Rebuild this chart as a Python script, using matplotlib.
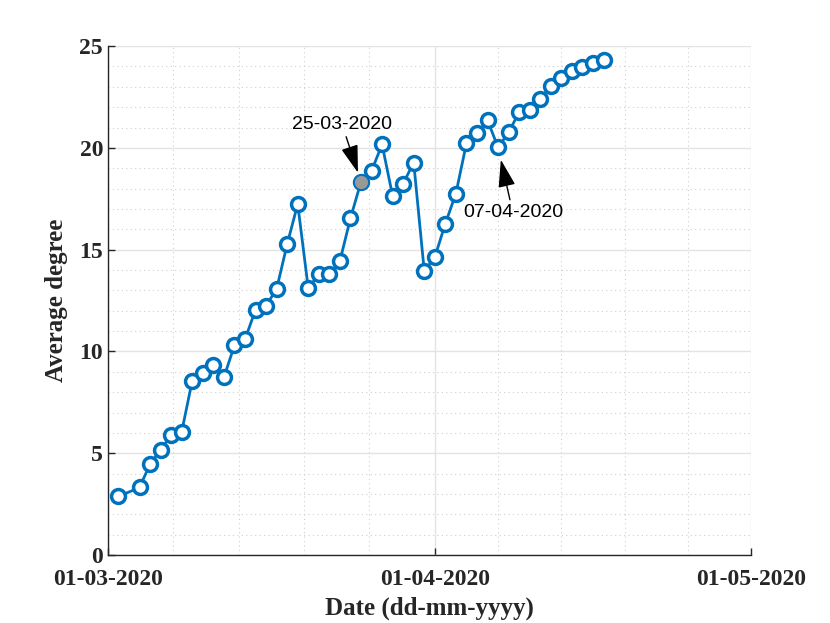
import numpy as np
import matplotlib
matplotlib.use('Agg')
import matplotlib.pyplot as plt
import matplotlib.dates as mdates
from datetime import date, timedelta

# Daily average degree (no value for 03-03-2020)
dates = [date(2020, 3, 2)] + [date(2020, 3, 4) + timedelta(days=i) for i in range(45)]
avg_degree = [
    2.88, 3.32, 4.47, 5.17, 5.89, 6.06, 8.57, 8.96, 9.34, 8.73,
    10.30, 10.60, 12.04, 12.25, 13.07, 15.27, 17.24, 13.10, 13.80, 13.80,
    14.44, 16.54, 18.33, 18.87, 20.17, 17.64, 18.25, 19.28, 13.95, 14.63,
    16.28, 17.76, 20.22, 20.71, 21.36, 20.02, 20.76, 21.76, 21.88, 22.42,
    23.04, 23.41, 23.78, 23.97, 24.17, 24.34,
]
highlight = date(2020, 3, 25)
note_dip = date(2020, 4, 7)
month_starts = [date(2020, 3, 1), date(2020, 4, 1), date(2020, 5, 1)]

blue = '#0072BD'
serif = 'Liberation Serif'

fig = plt.figure(figsize=(8.3, 6.23), dpi=100)
ax = fig.add_axes([0.130, 0.109, 0.775, 0.817])

x = mdates.date2num(dates)
ax.plot(x, avg_degree, '-o', color=blue, lw=2, ms=10, mew=2.5,
        mfc='white', mec=blue, zorder=3)

hi = dates.index(highlight)
ax.plot(x[hi], avg_degree[hi], 'o', ms=10.5, mew=1, mfc='#999999',
        mec=blue, zorder=4)

# annotations
arrow = dict(arrowstyle='-|>,head_length=0.9,head_width=0.28',
             color='black', lw=1, shrinkA=1, mutation_scale=19)
ax.annotate('25-03-2020', xy=(x[hi], avg_degree[hi]),
            xytext=(mdates.date2num(date(2020, 3, 23)) + 0.2, 20.75),
            ha='center', va='bottom', fontsize=14, family='Liberation Sans',
            arrowprops=dict(arrow, shrinkB=7))
dp = dates.index(note_dip)
ax.annotate('07-04-2020', xy=(x[dp], avg_degree[dp]),
            xytext=(mdates.date2num(date(2020, 4, 8)) + 0.4, 17.25),
            ha='center', va='top', fontsize=14, family='Liberation Sans',
            arrowprops=dict(arrow, shrinkB=9))

# axes
ms_num = mdates.date2num(month_starts)
ax.set_xlim(ms_num[0], ms_num[-1])
ax.set_ylim(0, 25)
ax.set_xticks(ms_num)
ax.set_xticklabels([d.strftime('%d-%m-%Y') for d in month_starts])
minor_x = []
for a, b in zip(ms_num[:-1], ms_num[1:]):
    minor_x += list(np.linspace(a, b, 6)[1:-1])
ax.set_xticks(minor_x, minor=True)
ax.set_yticks(np.arange(0, 26, 5))
ax.set_yticks(np.arange(0, 26, 1), minor=True)

ax.grid(which='major', color='#e3e3e3', lw=1, ls='-')
ax.grid(which='minor', color='#cfcfcf', lw=0.8, ls=(0, (1, 3)))
ax.set_axisbelow(True)

for s in ['top', 'right']:
    ax.spines[s].set_visible(False)
for s in ['left', 'bottom']:
    ax.spines[s].set_color('#262626')
    ax.spines[s].set_linewidth(1)

ax.tick_params(which='major', direction='in', length=5, width=1, color='#262626')
ax.tick_params(which='minor', length=0)
for lab in ax.get_xticklabels() + ax.get_yticklabels():
    lab.set_fontfamily(serif)
    lab.set_fontweight('bold')
    lab.set_fontsize(17)
    lab.set_color('#262626')
ax.tick_params(axis='x', pad=10)

ax.set_xlabel('Date (dd-mm-yyyy)', fontsize=18, family=serif,
              fontweight='bold', color='#262626', labelpad=5)
ax.set_ylabel('Average degree', fontsize=18, family=serif,
              fontweight='bold', color='#262626', labelpad=8)

fig.savefig('out.png', dpi=100)
